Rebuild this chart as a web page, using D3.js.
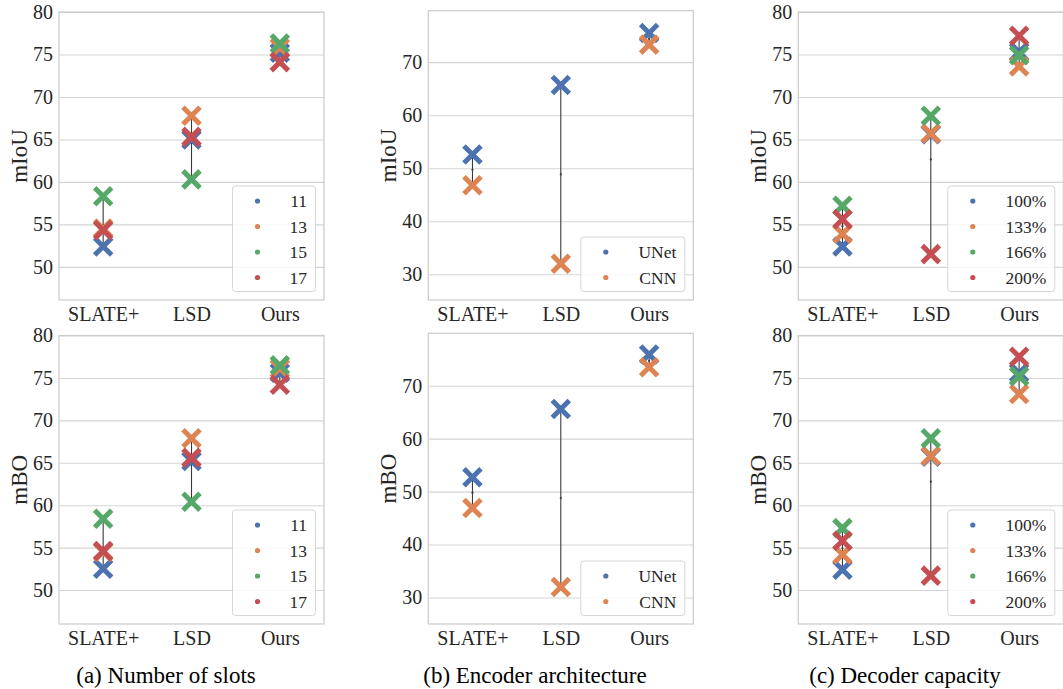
<!DOCTYPE html>
<html>
<head>
<meta charset="utf-8">
<script src="https://cdn.jsdelivr.net/npm/d3@7"></script>
<style>
  body { margin: 0; background: #fff; }
  svg { font-family: "Liberation Serif", "Times New Roman", serif; }
</style>
</head>
<body>
<svg id="chart" width="1063" height="689"></svg>
<script>
// categories and hue labels
const methods = ["SLATE+", "LSD", "Ours"];
const slotLabels = ["11", "13", "15", "17"];
const encoderLabels = ["UNet", "CNN"];
const decoderLabels = ["100%", "133%", "166%", "200%"];

// values per hue, one entry per method (SLATE+, LSD, Ours)
const slotsMIoU = [
  [52.4, 65.0, 75.2],
  [54.5, 67.8, 75.8],
  [58.3, 60.3, 76.3],
  [54.3, 65.3, 74.1]
];
const slotsMBO = [
  [52.5, 65.2, 75.6],
  [54.5, 67.9, 76.1],
  [58.4, 60.4, 76.5],
  [54.6, 65.6, 74.2]
];
const encoderMIoU = [
  [52.6, 65.7, 75.5],
  [46.8, 32.0, 73.3]
];
const encoderMBO = [
  [52.7, 65.6, 75.9],
  [46.9, 32.0, 73.5]
];
const decoderMIoU = [
  [52.4, 65.6, 75.3],
  [53.9, 65.7, 73.6],
  [57.2, 67.8, 74.9],
  [55.6, 51.5, 77.2]
];
const decoderMBO = [
  [52.4, 65.7, 75.6],
  [54.2, 65.8, 73.1],
  [57.3, 67.9, 75.2],
  [55.8, 51.7, 77.5]
];

const ticks5 = [50, 55, 60, 65, 70, 75, 80];
const ticks10 = [30, 40, 50, 60, 70];
const captions = ["(a) Number of slots", "(b) Encoder architecture", "(c) Decoder capacity"];

const colors = ["#4C72B0", "#DD8452", "#55A868", "#C44E52"];

// layout
const colLeft = [59, 428.3, 798.3];
const panelW = 265;
const captionX = [166, 535, 905];

const panels = [
  { col: 0, top: 12, bottom: 300, label: "mIoU", hues: slotLabels, data: slotsMIoU, domain: [46.1, 80], ticks: ticks5, legendW: 83 },
  { col: 1, top: 10.7, bottom: 300, label: "mIoU", hues: encoderLabels, data: encoderMIoU, domain: [25.15, 79.7], ticks: ticks10, legendW: 104 },
  { col: 2, top: 12, bottom: 300, label: "mIoU", hues: decoderLabels, data: decoderMIoU, domain: [46.1, 80], ticks: ticks5, legendW: 107 },
  { col: 0, top: 335.5, bottom: 624, label: "mBO", hues: slotLabels, data: slotsMBO, domain: [46.0, 80], ticks: ticks5, legendW: 83 },
  { col: 1, top: 333.3, bottom: 624, label: "mBO", hues: encoderLabels, data: encoderMBO, domain: [25.0, 79.9], ticks: ticks10, legendW: 104 },
  { col: 2, top: 335.5, bottom: 624, label: "mBO", hues: decoderLabels, data: decoderMBO, domain: [46.0, 80], ticks: ticks5, legendW: 107 }
];

const svg = d3.select("#chart");

panels.forEach(function (p) {
  const left = colLeft[p.col];
  const height = p.bottom - p.top;
  const g = svg.append("g").attr("transform", `translate(${left},${p.top})`);

  const x = d3.scalePoint().domain(methods).range([0, panelW]).padding(0.5);
  const y = d3.scaleLinear().domain(p.domain).range([height, 0]);

  // grid + y tick labels
  const yAxis = g.append("g")
    .call(d3.axisLeft(y).tickValues(p.ticks).tickSize(-panelW).tickPadding(6));
  yAxis.select(".domain").remove();
  yAxis.selectAll(".tick line").attr("stroke", "#d4d4d4").attr("stroke-width", 1.1);
  yAxis.selectAll(".tick text")
    .attr("fill", "#262626")
    .style("font-size", "20px")
    .style("font-family", "'Liberation Serif', serif");

  // x tick labels
  const xAxis = g.append("g")
    .attr("transform", `translate(0,${height})`)
    .call(d3.axisBottom(x).tickSize(0).tickPadding(6));
  xAxis.select(".domain").remove();
  xAxis.selectAll(".tick text")
    .attr("fill", "#262626")
    .attr("dy", "0")
    .attr("y", 21)
    .style("font-size", "20px")
    .style("font-family", "'Liberation Serif', serif");

  // spines
  g.append("rect")
    .attr("width", panelW)
    .attr("height", height)
    .attr("fill", "none")
    .attr("stroke", "#cccccc")
    .attr("stroke-width", 1.25);

  // y label
  g.append("text")
    .attr("transform", `translate(${-32},${height / 2}) rotate(-90)`)
    .attr("text-anchor", "middle")
    .attr("fill", "#262626")
    .style("font-size", "23px")
    .text(p.label);

  // range lines per method (min to max across hues) with mean dot
  methods.forEach(function (m, i) {
    const vals = p.data.map((d) => d[i]);
    g.append("line")
      .attr("x1", x(m)).attr("x2", x(m))
      .attr("y1", y(d3.min(vals))).attr("y2", y(d3.max(vals)))
      .attr("stroke", "#3a3a3a")
      .attr("stroke-width", 1.1);
    g.append("circle")
      .attr("cx", x(m)).attr("cy", y(d3.mean(vals)))
      .attr("r", 1.1)
      .attr("fill", "#3a3a3a");
  });

  // x markers
  const s = 8.5;
  p.data.forEach(function (series, h) {
    g.selectAll(null)
      .data(series)
      .enter()
      .append("path")
      .attr("transform", (d, i) => `translate(${x(methods[i])},${y(d)})`)
      .attr("d", `M${-s},${-s}L${s},${s}M${-s},${s}L${s},${-s}`)
      .attr("stroke", colors[h])
      .attr("stroke-width", 5)
      .attr("fill", "none");
  });

  // legend
  const rowH = 25.5;
  const lh = 14.5 + (p.hues.length - 1) * rowH + 14.5;
  const lx = panelW - 8.5 - p.legendW;
  const ly = height - 8.5 - lh;
  const leg = g.append("g").attr("transform", `translate(${lx},${ly})`);
  leg.append("rect")
    .attr("width", p.legendW)
    .attr("height", lh)
    .attr("rx", 3)
    .attr("fill", "#fff")
    .attr("fill-opacity", 0.85)
    .attr("stroke", "#d6d6d6")
    .attr("stroke-width", 1);
  p.hues.forEach(function (name, h) {
    const cy = 15 + h * rowH;
    leg.append("circle")
      .attr("cx", 25)
      .attr("cy", cy)
      .attr("r", 2.6)
      .attr("fill", colors[h]);
    leg.append("text")
      .attr("x", p.legendW - 8.5)
      .attr("y", cy)
      .attr("dy", "0.35em")
      .attr("text-anchor", "end")
      .attr("fill", "#262626")
      .style("font-size", "17.5px")
      .text(name);
  });
});

// captions
captions.forEach(function (c, i) {
  svg.append("text")
    .attr("x", captionX[i])
    .attr("y", 683)
    .attr("text-anchor", "middle")
    .attr("fill", "#000")
    .style("font-size", "23px")
    .text(c);
});
</script>
</body>
</html>
